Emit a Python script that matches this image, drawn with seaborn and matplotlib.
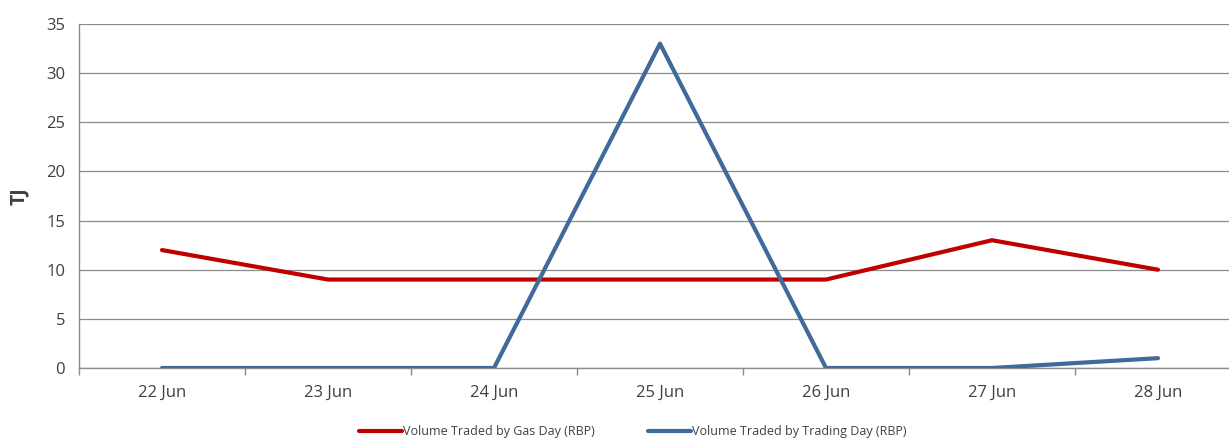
import matplotlib
matplotlib.use("Agg")
import matplotlib.pyplot as plt
import seaborn as sns
import pandas as pd
import numpy as np

days = ["22 Jun", "23 Jun", "24 Jun", "25 Jun", "26 Jun", "27 Jun", "28 Jun"]
gas_day = [12, 9, 9, 9, 9, 13, 10]
trading_day = [0, 0, 0, 33, 0, 0, 1]
series_names = ["Volume Traded by Gas Day (RBP)", "Volume Traded by Trading Day (RBP)"]
colors = ["#C00000", "#3F6A9A"]

sns.set_theme(style="white")
plt.rcParams["font.family"] = ["Open Sans", "DejaVu Sans"]

df = pd.DataFrame({
    "pos": list(range(len(days))) * 2,
    "value": gas_day + trading_day,
    "series": [series_names[0]] * len(days) + [series_names[1]] * len(days),
})

fig = plt.figure(figsize=(12.29, 4.46), dpi=100)
ax = fig.add_axes([79 / 1229, 78 / 446, 1162 / 1229, 344 / 446])

sns.lineplot(data=df, x="pos", y="value", hue="series", palette=colors,
             linewidth=3, ax=ax, legend=False, zorder=3)

ax.set_xlim(-0.5, len(days) - 0.5)
ax.set_ylim(0, 35)
ax.set_yticks(np.arange(0, 36, 5))
ax.yaxis.grid(True, color="#8C8C8C", linewidth=0.9)
ax.set_xticks(range(len(days)))
ax.set_xticklabels(days)
ax.set_xticks(np.arange(-0.5, len(days), 1), minor=True)
ax.tick_params(axis="x", which="major", length=0, pad=12, labelsize=12, labelcolor="#404040")
ax.tick_params(axis="x", which="minor", length=5, width=1, color="#8C8C8C", direction="out")
ax.tick_params(axis="y", length=6, width=1, color="#8C8C8C", direction="out",
               labelsize=12, labelcolor="#404040", pad=4)
ax.tick_params(axis="x", which="minor", bottom=True)
for side in ["top", "right"]:
    ax.spines[side].set_visible(False)
for side in ["left", "bottom"]:
    ax.spines[side].set_color("#8C8C8C")
    ax.spines[side].set_linewidth(1)
ax.set_xlabel("")
ax.set_ylabel("TJ", fontsize=14, fontweight="bold", color="#404040", labelpad=12)

handles = [plt.Line2D([], [], color=c, linewidth=3) for c in colors]
fig.legend(handles, series_names, loc="lower center", bbox_to_anchor=(0.515, -0.008),
           ncol=2, frameon=False, fontsize=9, handlelength=3.4, handletextpad=0.1,
           columnspacing=4.3, labelcolor="#404040")

fig.savefig("out.png", dpi=100)
